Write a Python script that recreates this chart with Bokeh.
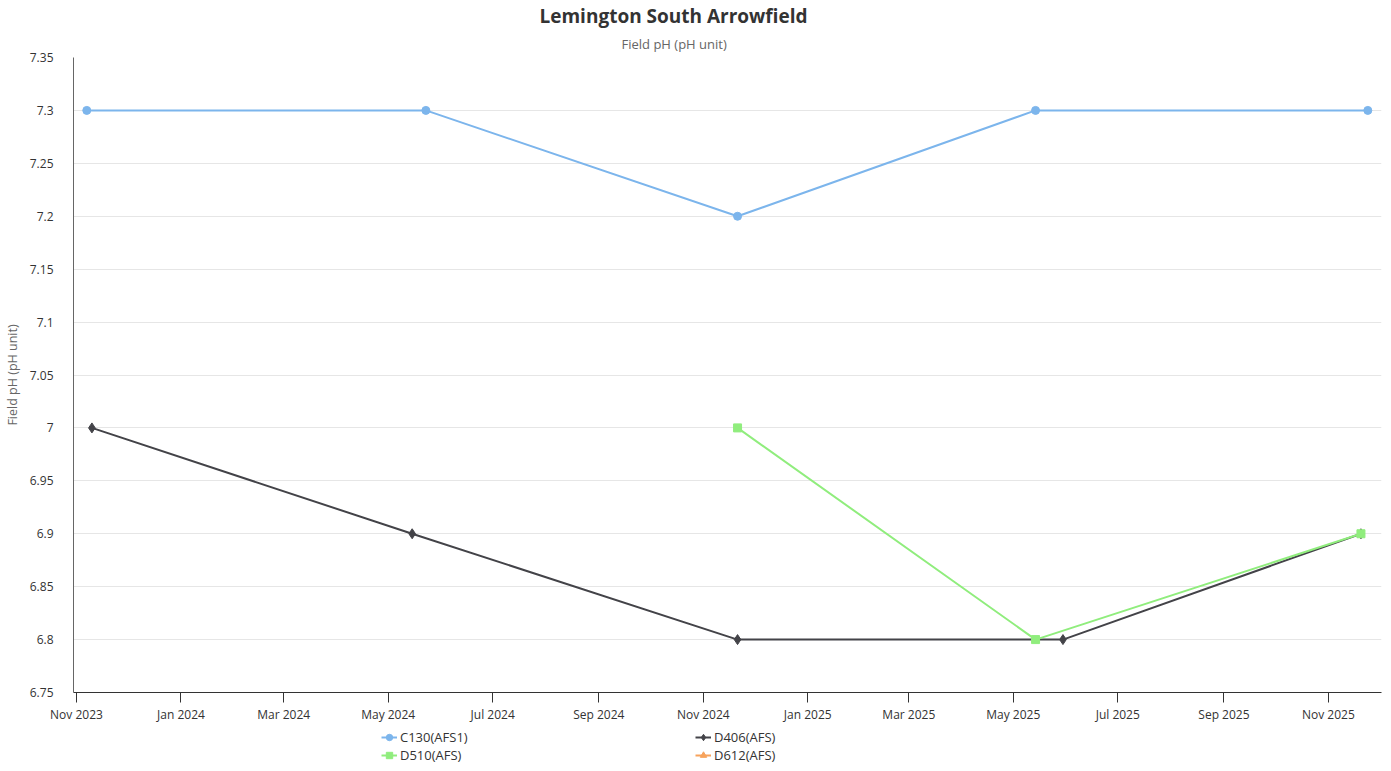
import datetime as dt
from bokeh.plotting import figure
from bokeh.layouts import column
from bokeh.models import (ColumnDataSource, FixedTicker, DatetimeTickFormatter, Range1d,
                          Legend, LegendItem, Title)
from bokeh.embed import file_html
from bokeh.resources import INLINE

# ---- data ----
c130_dates = ["2023-11-07", "2024-05-23", "2024-11-21", "2025-05-14", "2025-11-24"]
c130_vals = [7.3, 7.3, 7.2, 7.3, 7.3]
d406_dates = ["2023-11-10", "2024-05-15", "2024-11-21", "2025-05-30", "2025-11-20"]
d406_vals = [7.0, 6.9, 6.8, 6.8, 6.9]
d510_dates = ["2024-11-21", "2025-05-14", "2025-11-20"]
d510_vals = [7.0, 6.8, 6.9]
d612_dates = []
d612_vals = []

y_ticks = [6.75, 6.8, 6.85, 6.9, 6.95, 7.0, 7.05, 7.1, 7.15, 7.2, 7.25, 7.3, 7.35]
y_tick_labels = ["6.75", "6.8", "6.85", "6.9", "6.95", "7", "7.05", "7.1", "7.15", "7.2", "7.25", "7.3", "7.35"]
x_tick_dates = ["2023-11-01", "2024-01-01", "2024-03-01", "2024-05-01", "2024-07-01", "2024-09-01",
                "2024-11-01", "2025-01-01", "2025-03-01", "2025-05-01", "2025-07-01", "2025-09-01",
                "2025-11-01"]

def to_dt(s):
    return dt.datetime.strptime(s, "%Y-%m-%d")

def to_ms(d):
    return (d - dt.datetime(1970, 1, 1)).total_seconds() * 1000.0

FONT = "Open Sans"

p = figure(frame_width=1308, frame_height=635, x_axis_type="datetime", output_backend="svg",
           toolbar_location=None, min_border_left=66, min_border_top=49,
           min_border_right=1, min_border_bottom=30)
p.title.text = "Lemington South Arrowfield"
p.title.align = "left"
p.title.text_font = FONT
p.title.text_font_size = "19px"
p.title.text_font_style = "bold"
p.title.text_color = "#333333"
p.title.offset = 466
p.title.standoff = 0
p.add_layout(Title(text="Field pH (pH unit)", align="left", text_font=FONT,
                   text_font_size="13px", text_font_style="normal", text_color="#666666",
                   standoff=9, offset=548), "above")

p.x_range = Range1d(to_dt("2023-10-30") + dt.timedelta(hours=6), to_dt("2025-12-02"))
p.y_range = Range1d(6.75, 7.35)

p.outline_line_color = None
p.background_fill_color = "white"
p.border_fill_color = "white"

# grid
p.xgrid.grid_line_color = None
p.ygrid.grid_line_color = "#e6e6e6"
p.ygrid.grid_line_width = 1

# y axis
p.yaxis.ticker = FixedTicker(ticks=y_ticks)
p.yaxis.major_label_overrides = {t: l for t, l in zip(y_ticks, y_tick_labels)}
p.yaxis.major_tick_line_color = None
p.yaxis.minor_tick_line_color = None
p.yaxis.axis_line_color = "#666666"
p.yaxis.axis_line_width = 1
p.yaxis.major_label_text_font = FONT
p.yaxis.major_label_text_font_size = "12px"
p.yaxis.major_label_text_color = "#333333"
p.yaxis.major_label_standoff = 14
p.yaxis.axis_label = "Field pH (pH unit)"
p.yaxis.axis_label_text_font = FONT
p.yaxis.axis_label_text_font_size = "12.5px"
p.yaxis.axis_label_text_font_style = "normal"
p.yaxis.axis_label_text_color = "#666666"
p.yaxis.axis_label_standoff = 6

# x axis
p.xaxis.ticker = FixedTicker(ticks=[to_ms(to_dt(d)) for d in x_tick_dates])
p.xaxis.formatter = DatetimeTickFormatter(days="%b %Y", months="%b %Y", years="%b %Y")
p.xaxis.major_tick_in = 0
p.xaxis.major_tick_out = 10
p.xaxis.major_tick_line_color = "#333333"
p.xaxis.minor_tick_line_color = None
p.xaxis.axis_line_color = "#333333"
p.xaxis.major_label_text_font = FONT
p.xaxis.major_label_text_font_size = "12px"
p.xaxis.major_label_text_color = "#333333"
p.xaxis.major_label_standoff = 3

# legend figure (frame aligned with the main chart's frame by the column layout)
lf = figure(width=1375, height=39, output_backend="svg", toolbar_location=None,
            x_axis_location=None, y_axis_location=None, min_border=0,
            x_range=Range1d(0, 1), y_range=Range1d(0, 1))
lf.outline_line_color = None
lf.xgrid.grid_line_color = None
lf.ygrid.grid_line_color = None

series = [
    ("C130(AFS1)", c130_dates, c130_vals, "#7cb5ec", "circle", 8),
    ("D406(AFS)", d406_dates, d406_vals, "#434348", "diamond", 10),
    ("D510(AFS)", d510_dates, d510_vals, "#90ed7d", "square", 8),
    ("D612(AFS)", d612_dates, d612_vals, "#f7a35c", "triangle", 9),
]
items = {}
for name, dates, vals, color, marker, size in series:
    src = ColumnDataSource(dict(x=[to_dt(d) for d in dates], y=vals))
    p.line("x", "y", source=src, line_color=color, line_width=2)
    p.scatter("x", "y", source=src, marker=marker, size=size, fill_color=color,
              line_color=color)
    # off-frame placeholder so the legend swatch is drawn
    ph = ColumnDataSource(dict(x=[-10, -9], y=[-10, -10]))
    ln = lf.line("x", "y", source=ph, line_color=color, line_width=2)
    sc = lf.scatter("x", "y", source=ph, marker=marker, size=size, fill_color=color,
                    line_color=color)
    items[name] = LegendItem(label=name, renderers=[ln, sc])

lg = Legend(items=[items["C130(AFS1)"], items["D510(AFS)"], items["D406(AFS)"], items["D612(AFS)"]],
            location=(308, 0), orientation="vertical", nrows=2,
            background_fill_alpha=0, border_line_color=None, padding=0, margin=0,
            spacing=0, glyph_width=16, glyph_height=16, label_height=16, label_width=295,
            label_standoff=3, label_text_font=FONT, label_text_font_size="13px",
            label_text_color="#333333")
lf.add_layout(lg, "center")

layout = column(p, lf, spacing=0)
open("out.html", "w").write(file_html(layout, INLINE))
